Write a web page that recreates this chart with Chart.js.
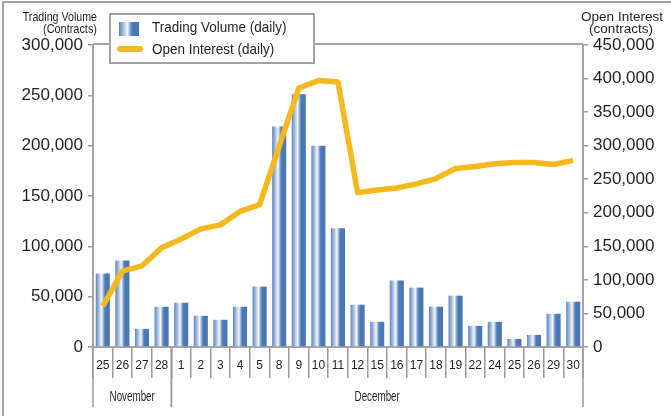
<!DOCTYPE html>
<html>
<head>
<meta charset="utf-8">
<script src="https://cdn.jsdelivr.net/npm/chart.js@4.4.1/dist/chart.umd.min.js"></script>
<style>
  html, body { margin: 0; padding: 0; background: #fff; }
  canvas { display: block; }
</style>
</head>
<body>
<canvas id="chart" width="671" height="416"></canvas>
<script>
// days on the x axis, and the month each group of days belongs to
const days = ['25', '26', '27', '28', '1', '2', '3', '4', '5', '8', '9', '10', '11', '12', '15', '16', '17', '18', '19', '22', '24', '25', '26', '29', '30'];
const months = ['November', 'December'];
const monthDayCounts = [4, 21];

// contracts
const tradingVolume = [73000, 86000, 18000, 40000, 44000, 31000, 27000, 40000, 60000, 219000, 251000, 200000, 118000, 42000, 25000, 66000, 59000, 40000, 51000, 21000, 25000, 8000, 12000, 33000, 45000];
const openInterest = [61000, 113000, 121000, 148000, 161000, 176000, 182000, 202000, 212000, 299000, 386000, 397000, 395000, 230000, 234000, 237000, 243000, 251000, 266000, 269000, 273000, 275000, 275000, 272000, 278000];

const volumeAxisMax = 300000;
const interestAxisMax = 450000;
const tickStep = 50000;

const sans = '"Liberation Sans", Arial, sans-serif';
const textColor = '#231f20';
const axisGray = '#a3a3a3';
const barBlue = '#4a78b4';
const lineYellow = '#f6b91d';

function barGradient(c, x0, x1) {
    const g = c.createLinearGradient(x0, 0, x1, 0);
    g.addColorStop(0, '#5d84be');
    g.addColorStop(0.22, '#a7bde0');
    g.addColorStop(0.42, '#f5f8fd');
    g.addColorStop(0.58, '#7c9dcf');
    g.addColorStop(0.68, barBlue);
    g.addColorStop(1, barBlue);
    return g;
}

function barFill(context) {
    const chart = context.chart;
    const xs = chart.scales.x;
    if (!xs || context.dataIndex === undefined) {
        return barBlue;
    }
    const cx = xs.getPixelForValue(context.dataIndex);
    const w = xs.width / days.length * 0.72;
    if (!isFinite(cx) || !isFinite(w) || w <= 0) {
        return barBlue;
    }
    return barGradient(chart.ctx, cx - w / 2, cx + w / 2);
}

// text squeezed horizontally, to get the condensed face of the original
function narrowText(c, text, x, y, size, squeeze, align) {
    c.save();
    c.font = size + 'px ' + sans;
    c.textAlign = align;
    c.textBaseline = 'middle';
    c.translate(x, y);
    c.scale(squeeze, 1);
    c.fillText(text, 0, 0);
    c.restore();
}

const fmt = v => v.toLocaleString('en-US');

const decorations = {
    id: 'decorations',
    afterDraw(chart) {
        const c = chart.ctx;
        const xs = chart.scales.x;
        const area = chart.chartArea;
        const step = xs.width / days.length;
        c.save();

        // outer frame (top and left only)
        c.strokeStyle = axisGray;
        c.lineWidth = 2;
        c.beginPath();
        c.moveTo(3, 416);
        c.lineTo(3, 2);
        c.lineTo(671, 2);
        c.stroke();

        // top border of the plot
        c.beginPath();
        c.moveTo(area.left, area.top - 1);
        c.lineTo(area.right, area.top - 1);
        c.stroke();

        // month row: separators and labels
        c.lineWidth = 1.5;
        c.strokeStyle = '#9a9a9a';
        c.fillStyle = textColor;
        let start = 0;
        months.forEach((m, k) => {
            const x0 = xs.getPixelForValue(start) - step / 2;
            const x1 = xs.getPixelForValue(start + monthDayCounts[k] - 1) + step / 2;
            [x0, x1].forEach(x => {
                c.beginPath();
                c.moveTo(x, area.bottom);
                c.lineTo(x, area.bottom + 60);
                c.stroke();
            });
            narrowText(c, m, (x0 + x1) / 2, area.bottom + 50, 14, 0.7, 'center');
            start += monthDayCounts[k];
        });

        // axis titles
        narrowText(c, 'Trading Volume', 97, 17, 13, 0.82, 'right');
        narrowText(c, '(Contracts)', 97, 29, 13, 0.84, 'right');
        narrowText(c, 'Open Interest', 622, 17, 13.5, 1, 'center');
        narrowText(c, '(contracts)', 621, 29, 13.5, 1, 'center');

        // legend
        c.fillStyle = '#fff';
        c.fillRect(110, 14, 204, 49);
        c.strokeStyle = axisGray;
        c.lineWidth = 2;
        c.strokeRect(110, 14, 204, 49);
        c.fillStyle = barGradient(c, 119, 139);
        c.fillRect(119, 22, 20, 14);
        c.strokeStyle = lineYellow;
        c.lineWidth = 6;
        c.lineCap = 'round';
        c.beginPath();
        c.moveTo(120, 49);
        c.lineTo(140, 49);
        c.stroke();
        c.fillStyle = textColor;
        narrowText(c, 'Trading Volume (daily)', 152, 28, 15, 0.9, 'left');
        narrowText(c, 'Open Interest (daily)', 152, 50, 15, 0.9, 'left');

        c.restore();
    }
};

new Chart(document.getElementById('chart'), {
    data: {
        labels: days,
        datasets: [
            {
                type: 'line',
                label: 'Open Interest (daily)',
                data: openInterest,
                yAxisID: 'y1',
                borderColor: lineYellow,
                backgroundColor: lineYellow,
                borderWidth: 5.5,
                borderJoinStyle: 'round',
                pointRadius: 0,
                tension: 0,
                order: 0
            },
            {
                type: 'bar',
                label: 'Trading Volume (daily)',
                data: tradingVolume,
                yAxisID: 'y',
                backgroundColor: barFill,
                categoryPercentage: 1,
                barPercentage: 0.72,
                order: 1
            }
        ]
    },
    options: {
        responsive: false,
        devicePixelRatio: 1,
        animation: false,
        layout: { padding: { top: 45, left: 0, right: 0, bottom: 0 } },
        plugins: {
            legend: { display: false },
            tooltip: { enabled: false }
        },
        scales: {
            x: {
                type: 'category',
                offset: true,
                grid: { offset: true, drawOnChartArea: false, tickLength: 31, color: '#9a9a9a', lineWidth: 1.5 },
                border: { color: axisGray, width: 2 },
                ticks: { font: { family: sans, size: 12 }, color: textColor, padding: -20, maxRotation: 0, autoSkip: false },
                afterFit: s => { s.height = 69; }
            },
            y: {
                position: 'left',
                min: 0,
                max: volumeAxisMax,
                ticks: { stepSize: tickStep, callback: fmt, font: { family: sans, size: 17 }, color: textColor, padding: 5 },
                grid: { drawOnChartArea: false, tickLength: 5, color: '#9a9a9a', lineWidth: 1.5 },
                border: { color: axisGray, width: 2 },
                afterFit: s => { s.width = 93; }
            },
            y1: {
                position: 'right',
                min: 0,
                max: interestAxisMax,
                ticks: { stepSize: tickStep, callback: fmt, font: { family: sans, size: 17 }, color: textColor, padding: 5 },
                grid: { drawOnChartArea: false, tickLength: 5, color: '#9a9a9a', lineWidth: 1.5 },
                border: { color: axisGray, width: 2 },
                afterFit: s => { s.width = 88; }
            }
        }
    },
    plugins: [decorations]
});
</script>
</body>
</html>
